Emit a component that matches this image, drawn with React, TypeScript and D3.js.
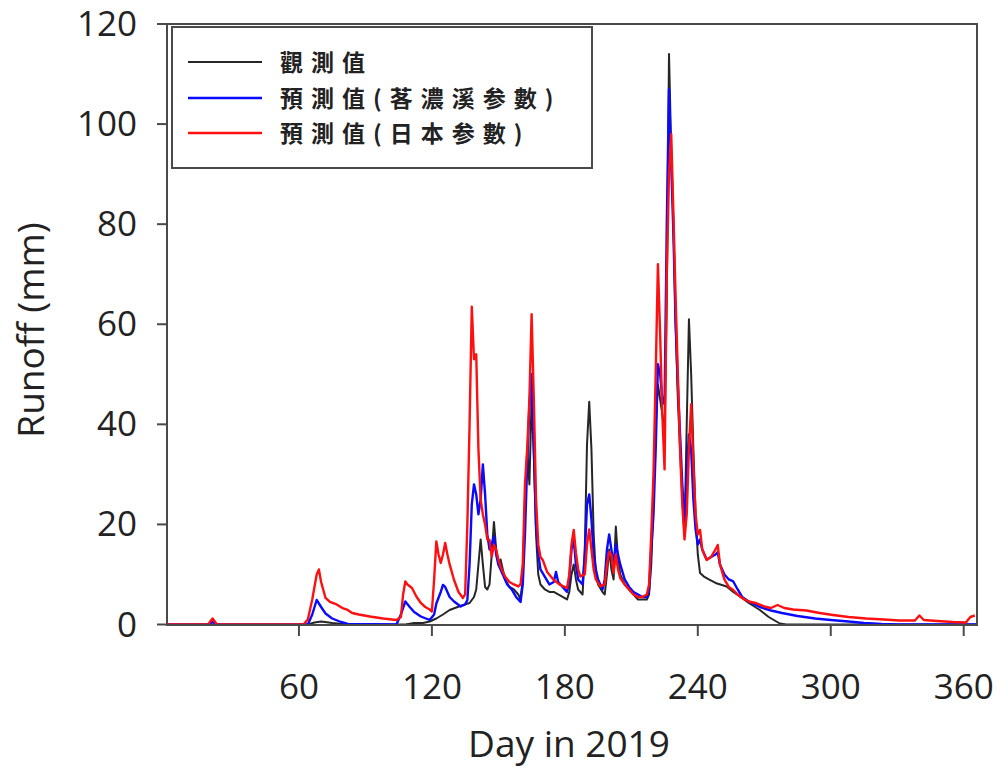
import React from "react";
import * as d3 from "d3";

const yTicks = [0, 20, 40, 60, 80, 100, 120];
const xTicks = [60, 120, 180, 240, 300, 360];
const legendLabels = ["觀測值", "預測值(茖濃溪参數)", "預測值(日本参數)"];
const seriesColors = ["#262626", "#0a0aff", "#ff1010"];

const observed: [number, number][] = [
  [0,0],[64,0],[67,0.4],[70,0.6],[75,0.3],[82,0],[108,0],[112,0.3],[116,0.3],[119,0.6],[122,1.2],[125,2],[128,2.9],[131,3.4],[134,3.9],[137,4.3],[139,5.5],[140,7],[141,12],[142,17],[143,12],[144,7.5],[145,7],[146,8],[147,14],[148,20.5],[149,15],[150,12],[151,13],[152,11],[153,9],[155,7.5],[157,7],[159,6],[160,5],[161,9],[162,25],[163,35],[164,28],[165,45],[166,34],[167,18],[168,10],[169,8],[171,7],[173,6.5],[175,6.5],[177,6],[179,5.5],[181,5],[182,6.5],[183,10],[184,12],[185,9],[186,7],[188,6],[189,15],[190,36],[191,44.5],[192,35],[193,18],[194,10],[195,8],[197,6.5],[198,6],[199,10],[200,15],[201,11],[202,9],[203,19.6],[204,13],[205,10],[207,8],[209,7],[211,6],[213,5],[215,5],[217,5],[218,6],[219,12],[220,25],[221,40],[222,48],[223,45],[224,42],[225,38],[226,65],[227,114],[228,95],[229,80],[230,60],[231,45],[232,35],[233,25],[234,18],[235,40],[236,61],[237,50],[238,35],[239,22],[240,14],[241,10.3],[243,9.5],[245,9],[248,8.3],[253,7.6],[256,6.5],[259,5.6],[263,4.3],[268,2.9],[272,1.5],[277,0.2],[280,0],[366,0]
];

const predLaonong: [number, number][] = [
  [0,0],[19,0],[21,0.5],[23,0],[64,0],[66,2],[68,4.9],[70,3.5],[72,2.2],[75,1.2],[79,0.5],[82,0.1],[104,0],[106,2],[108,4.6],[110,3.5],[112,2.5],[115,1.6],[119,0.9],[121,2],[122,4.2],[124,6.5],[125,7.9],[126,7.5],[128,5.5],[130,4.6],[133,3.6],[135,4],[136,4.9],[137,12],[138,24],[139,28],[140,26],[141,22],[142,25],[143,32],[144,26],[145,18],[146,15],[147,16],[148,17.6],[149,14],[150,12],[152,10],[154,8],[156,7],[158,5.5],[160,4.5],[161,8],[162,18],[163,32],[164,44],[165,50],[166,35],[167,20],[168,14],[169,11],[171,9.5],[173,8],[175,8.5],[176,10.5],[177,8.5],[179,7.5],[181,6.5],[182,9],[183,15],[184,17],[185,12],[186,9],[188,8],[189,14],[190,24],[191,26],[192,21],[193,14],[194,11],[195,9],[197,7],[198,9],[199,15],[200,18],[201,15],[202,12],[203,16],[204,14],[205,12],[207,9],[209,7.5],[211,6.5],[213,6],[215,5.5],[217,5.5],[218,7],[219,15],[220,22],[221,35],[222,52],[223,50],[224,45],[225,44],[226,80],[227,107],[228,92],[229,78],[230,60],[231,48],[232,38],[233,28],[234,20],[235,30],[236,38],[237,35],[238,25],[239,19],[240,16],[241,17],[242,15],[244,13],[246,13.5],[248,14],[249,14.5],[250,12],[252,10],[254,9],[256,8.6],[258,7],[260,5.5],[263,4.6],[268,3.5],[273,2.8],[278,2.3],[285,1.7],[293,1.2],[300,0.9],[308,0.6],[315,0.3],[323,0.1],[330,0],[366,0]
];

const predJapan: [number, number][] = [
  [0,0],[19,0],[21,1.2],[23,0],[62,0],[64,1],[66,5],[68,10],[69,11],[70,8.5],[72,5.3],[74,4.5],[77,4],[80,3.2],[82,2.9],[84,2.3],[87,2],[92,1.6],[98,1.2],[104,0.9],[106,1.5],[107,6],[108,8.6],[109,8],[111,7.3],[113,5.6],[115,4.3],[117,3.5],[119,3],[120,2.6],[121,9],[122,16.6],[123,14],[124,12.3],[125,14],[126,16.3],[127,14],[128,12],[130,8.9],[132,6.5],[134,5.3],[135,6],[136,20],[137,40],[138,63.5],[139,53],[140,54],[141,35],[142,25],[143,22],[144,20],[145,17],[146,16.9],[147,13.6],[148,15.9],[149,15],[150,13],[151,11.6],[153,9.6],[155,8.5],[157,8],[159,7.6],[160,8],[161,12],[162,28],[163,35],[164,45],[165,62],[166,45],[167,25],[168,16],[169,13.5],[170,12.9],[172,10.5],[175,8.9],[178,7.9],[181,7.3],[182,10],[183,16],[184,18.9],[185,14.3],[186,11],[187,9.6],[189,10],[190,16],[191,19],[192,15],[193,11],[194,9],[196,7.6],[198,8],[199,12],[200,14.5],[201,13.9],[202,10.3],[203,14],[204,11],[205,9.3],[207,8],[209,7],[211,6],[213,5.5],[215,5.5],[217,6],[218,8],[219,18],[220,30],[221,50],[222,72],[223,58],[224,42],[225,31],[226,70],[227,90],[228,98],[229,82],[230,65],[231,50],[232,35],[233,24],[234,17],[235,22],[236,35],[237,44],[238,32],[239,22],[240,18],[241,18.9],[242,15],[244,12.9],[246,13.5],[248,15],[249,15.9],[250,12],[252,9],[254,7.5],[256,6.9],[258,6],[260,5.3],[263,4.6],[266,4.3],[270,3.6],[273,3.3],[276,3.9],[279,3.3],[283,3],[289,2.8],[295,2.3],[301,1.9],[308,1.5],[316,1.2],[324,1],[331,0.8],[338,0.8],[340,1.8],[342,0.9],[348,0.7],[355,0.5],[361,0.4],[363,1.5],[365,1.8]
];

const allSeries = [observed, predLaonong, predJapan];

export default function App() {
  const W = 1005, H = 775;
  const left = 167, right = 977, top = 24, bottom = 625;
  const x = d3.scaleLinear().domain([0, 366]).range([left - 1, right]);
  const y = d3.scaleLinear().domain([0, 120]).range([bottom - 0.5, top]);
  const line = d3.line<[number, number]>().x(d => x(d[0])).y(d => y(d[1]));
  const axisColor = "#4a4a4a";
  const font = "'Open Sans', 'DejaVu Sans', sans-serif";
  const cjk = "'Noto Sans CJK TC', 'Noto Sans CJK JP', sans-serif";
  const lg = { x0: 172, y0: 27, x1: 592, y1: 168 };
  const rowY = [62, 98, 133];
  return (
    <svg width={W} height={H} style={{ position: "absolute", left: 0, top: 0, background: "#fff" }}>
      <rect x={0} y={0} width={W} height={H} fill="#fff" />
      <g>
        {allSeries.map((s, i) => (
          <path key={i} d={line(s) || ""} fill="none" stroke={seriesColors[i]}
            strokeWidth={i === 0 ? 2 : 2.4} strokeLinejoin="round" />
        ))}
      </g>
      <rect x={left} y={top} width={right - left} height={bottom - top} fill="none" stroke={axisColor} strokeWidth={2} />
      {yTicks.map(t => (
        <g key={"y" + t}>
          <line x1={left - 10} x2={left} y1={y(t)} y2={y(t)} stroke={axisColor} strokeWidth={2} />
          <text x={137} y={y(t) + 12} textAnchor="end" fontFamily={font} fontSize={35} fill="#222">{t}</text>
        </g>
      ))}
      {xTicks.map(t => (
        <g key={"x" + t}>
          <line x1={x(t)} x2={x(t)} y1={bottom} y2={bottom + 11} stroke={axisColor} strokeWidth={2} />
          <text x={x(t)} y={699} textAnchor="middle" fontFamily={font} fontSize={35} fill="#222">{t}</text>
        </g>
      ))}
      <text x={569} y={757} textAnchor="middle" fontFamily={font} fontSize={37} fill="#222">Day in 2019</text>
      <text transform="translate(44,330) rotate(-90)" textAnchor="middle" fontFamily={font} fontSize={37} fill="#222">Runoff (mm)</text>
      <rect x={lg.x0} y={lg.y0} width={lg.x1 - lg.x0} height={lg.y1 - lg.y0} fill="#fff" stroke={axisColor} strokeWidth={2} />
      {legendLabels.map((lab, i) => (
        <g key={lab}>
          <line x1={188} x2={262} y1={rowY[i]} y2={rowY[i]} stroke={seriesColors[i]} strokeWidth={i === 0 ? 2 : 2.6} />
          <text x={280} y={rowY[i] + 9} fontFamily={cjk} fontWeight={700} fontSize={23} letterSpacing={8} fill="#222">{lab}</text>
        </g>
      ))}
    </svg>
  );
}
